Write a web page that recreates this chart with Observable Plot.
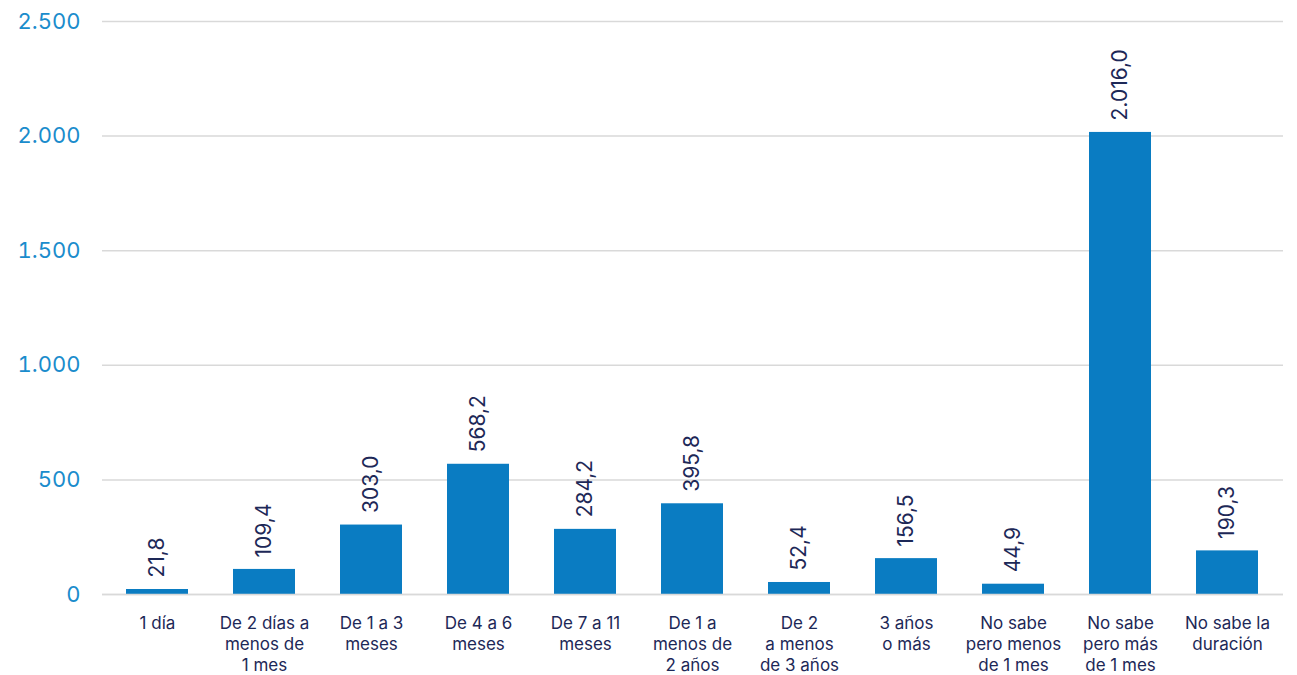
<!DOCTYPE html>
<html>
<head>
<meta charset="utf-8">
<script src="https://cdn.jsdelivr.net/npm/d3@7"></script>
<script src="https://cdn.jsdelivr.net/npm/@observablehq/plot@0.6"></script>
<style>
  html, body { margin: 0; padding: 0; background: #fff; }
  #chart svg { display: block; }
</style>
</head>
<body>
<div id="chart"></div>
<script>
const categories = [
  "1 día",
  "De 2 días a\nmenos de\n1 mes",
  "De 1 a 3\nmeses",
  "De 4 a 6\nmeses",
  "De 7 a 11\nmeses",
  "De 1 a\nmenos de\n2 años",
  "De 2\na menos\nde 3 años",
  "3 años\no más",
  "No sabe\npero menos\nde 1 mes",
  "No sabe\npero más\nde 1 mes",
  "No sabe la\nduración"
];
const values = [21.8, 109.4, 303.0, 568.2, 284.2, 395.8, 52.4, 156.5, 44.9, 2016.0, 190.3];
const yTicks = [0, 500, 1000, 1500, 2000, 2500];

const locale = d3.formatLocale({decimal: ",", thousands: ".", grouping: [3], currency: ["", " €"]});
const fmtVal = locale.format(",.1f");
const fmtTick = locale.format(",d");

const data = categories.map((c, i) => ({cat: c, value: values[i]}));

const barColor = "#0a7cc2";
const navy = "#1d2857";
const tickBlue = "#1a8ccc";
const font = "Inter, 'Noto Sans', sans-serif";

const chart = Plot.plot({
  width: 1297,
  height: 675,
  marginLeft: 102,
  marginRight: 14,
  marginTop: 21,
  marginBottom: 81,
  style: {fontFamily: font, background: "#fff"},
  x: {domain: categories, paddingInner: 0.42, paddingOuter: 0.22, label: null},
  y: {domain: [0, 2500], label: null},
  marks: [
    Plot.gridY(yTicks, {stroke: "#d9d9d9", strokeOpacity: 1, strokeWidth: 1.5}),
    Plot.barY(data, {x: "cat", y: "value", fill: barColor}),
    Plot.ruleY([0], {stroke: "#d9d9d9", strokeWidth: 1.5}),
    Plot.text(data, {
      x: "cat", y: "value", text: d => fmtVal(d.value),
      rotate: -90, textAnchor: "start", lineAnchor: "middle",
      dy: -12, fill: navy, fontSize: 21
    }),
    Plot.axisY(yTicks, {
      tickSize: 0, tickPadding: 22, tickFormat: fmtTick,
      fill: tickBlue, fontSize: 22, label: null
    }),
    Plot.axisX({
      tickSize: 0, tickPadding: 20, fill: navy, fontSize: 17,
      lineHeight: 1.22, label: null, lineAnchor: "top"
    })
  ]
});
document.getElementById("chart").appendChild(chart);
</script>
</body>
</html>
